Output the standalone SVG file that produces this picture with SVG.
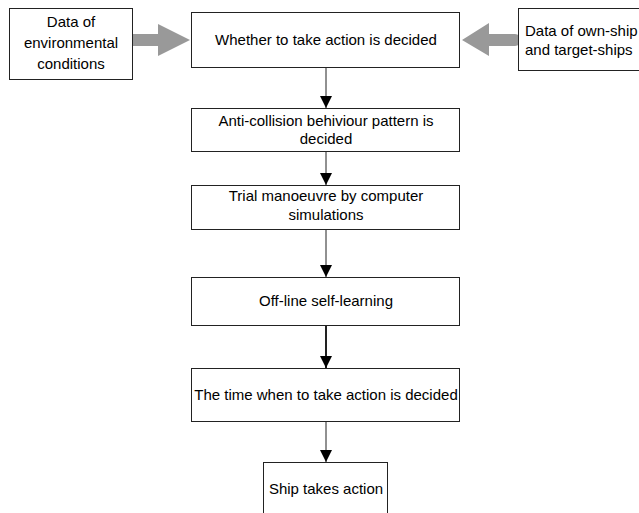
<svg xmlns="http://www.w3.org/2000/svg" width="639" height="513" viewBox="0 0 639 513">
<style>
.box{fill:#fff;stroke:#222;stroke-width:1}
.t{font-family:"Liberation Sans",Arial,sans-serif;font-size:15px;fill:#000;text-anchor:middle}
.ln{stroke:#222;stroke-width:1;fill:none}
.thick{stroke-width:2}
.big{fill:#999}
</style>
<defs>
<marker id="ah" markerUnits="userSpaceOnUse" markerWidth="12" markerHeight="12" refX="10" refY="5" orient="auto" viewBox="0 0 10 10">
<path d="M0,0 L10,5 L0,10 Z" fill="#000"/>
</marker>
</defs>
<rect width="639" height="513" fill="#fff"/>
<g id="connectors">
<path class="big" d="M133,34 L158,34 L158,24 L190,40 L158,56 L158,46 L133,46 A6,6 0 0 1 133,34 Z"/>
<path class="big" d="M515,34 L489,34 L489,23 L462,40 L489,56 L489,46 L515,46 A6,6 0 0 0 515,34 Z"/>
<line class="ln" x1="326" y1="67" x2="326" y2="108" marker-end="url(#ah)"/>
<line class="ln" x1="326" y1="151" x2="326" y2="185" marker-end="url(#ah)"/>
<line class="ln" x1="326" y1="229" x2="326" y2="277" marker-end="url(#ah)"/>
<line class="ln thick" x1="326" y1="325" x2="326" y2="368" marker-end="url(#ah)"/>
<line class="ln" x1="326" y1="421" x2="326" y2="462" marker-end="url(#ah)"/>
</g>
<g id="env">
<rect class="box" x="9.5" y="8.5" width="123" height="71"/>
<text class="t" x="71" y="27">Data of</text>
<text class="t" x="71" y="48">environmental</text>
<text class="t" x="71" y="69">conditions</text>
</g>
<g id="whether">
<rect class="box" x="191.5" y="12.5" width="268" height="55"/>
<text class="t" x="326" y="45">Whether to take action is decided</text>
</g>
<g id="ownship">
<rect class="box" x="518.5" y="8.5" width="130" height="62"/>
<text class="t" x="525" y="36" style="text-anchor:start">Data of own-ship</text>
<text class="t" x="525" y="55" style="text-anchor:start">and target-ships</text>
</g>
<g id="pattern">
<rect class="box" x="191.5" y="108.5" width="268" height="43"/>
<text class="t" x="326" y="126">Anti-collision behiviour pattern is</text>
<text class="t" x="326" y="144">decided</text>
</g>
<g id="trial">
<rect class="box" x="191.5" y="185.5" width="268" height="44"/>
<text class="t" x="326" y="201">Trial manoeuvre by computer</text>
<text class="t" x="326" y="220">simulations</text>
</g>
<g id="offline">
<rect class="box" x="191.5" y="277.5" width="268" height="48"/>
<text class="t" x="326" y="306">Off-line self-learning</text>
</g>
<g id="time">
<rect class="box" x="191.5" y="368.5" width="268" height="53"/>
<text class="t" x="326" y="400">The time when to take action is decided</text>
</g>
<g id="ship">
<rect class="box" x="263.5" y="462.5" width="124" height="60"/>
<text class="t" x="326" y="494">Ship takes action</text>
</g>
</svg>
